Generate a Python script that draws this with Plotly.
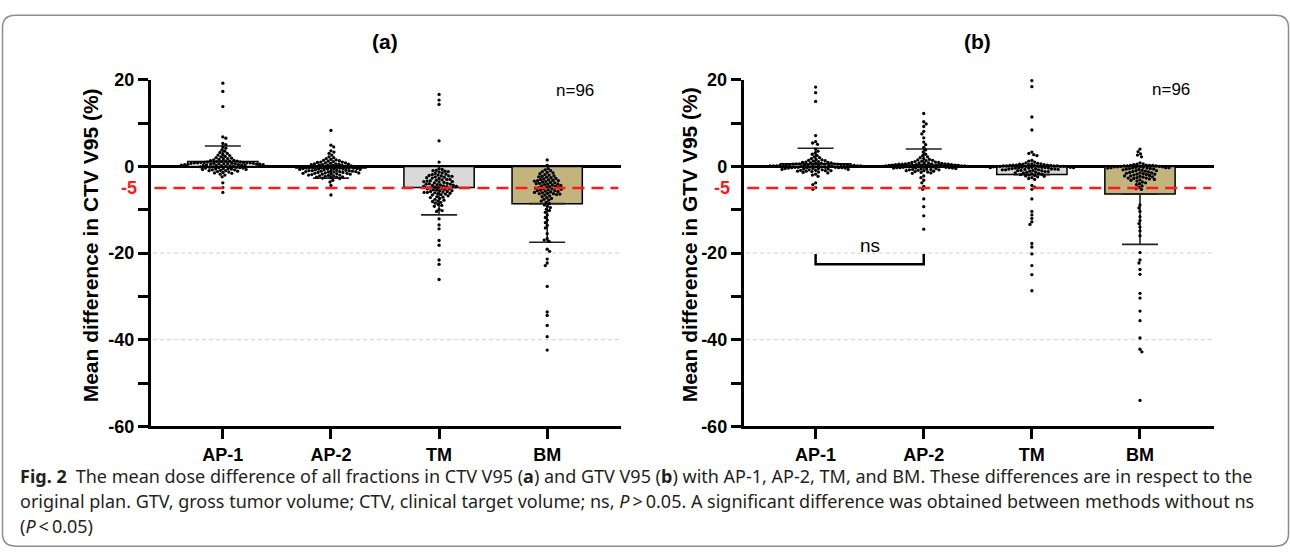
import math
import plotly.graph_objects as go

W, H = 1290, 560

categories = ["AP-1", "AP-2", "TM", "BM"]
bar_colors = ["#ffffff", "#ffffff", "#d9d9d9", "#c2b47c"]
y_ticks = [20, 0, -20, -40, -60]
y_ticktext = ["20", "0", "-20", "-40", "-60"]
y_minor = [10, -10, -30, -50]

# Panel (a): CTV V95 mean difference (%) and SD
ctv_mean = [1.1, -0.4, -4.9, -8.6]
ctv_sd = [3.6, 2.3, 6.3, 8.9]
# Panel (b): GTV V95
gtv_mean = [0.6, 0.3, -1.9, -6.4]
gtv_sd = [3.6, 3.7, 0.0, 11.6]

# individual fractions (n=96 per method), estimated from the scatter
ctv_ap1 = [19.2, 17.3, 13.8, 6.8, 6.5, 5.3, 5.0, 4.5, 4.2, 3.8, 3.5, 3.2,
           3.0, 2.8, 2.6, 2.5, 2.3, 2.2, 2.0, 1.9, 1.8, 1.7, 1.6, 1.5,
           1.4, 1.3, 1.2, 1.2, 1.1, 1.0, 1.0, 0.9, 0.9, 0.8, 0.8, 0.8,
           0.7, 0.7, 0.7, 0.6, 0.6, 0.6, 0.5, 0.5, 0.5, 0.5, 0.4, 0.4,
           0.4, 0.3, 0.3, 0.3, 0.2, 0.2, 0.2, 0.1, 0.1, 0.0, 0.0, -0.1,
           -0.1, -0.2, -0.2, -0.3, -0.3, -0.4, -0.4, -0.5, -0.5, -0.6, -0.6, -0.7,
           -0.7, -0.8, -0.8, -0.9, -1.0, -1.0, -1.1, -1.2, -1.3, -1.4, -1.5, -1.6,
           -1.8, -2.0, -2.4, -3.8, -4.9, -6.0, 0.9, 1.1, 0.6, 0.8, 0.7, 1.2]
ctv_ap2 = [8.3, 4.9, 4.5, 3.6, 3.3, 3.0, 2.6, 2.2, 2.0, 1.8, 1.6, 1.5,
           1.4, 1.3, 1.2, 1.1, 1.0, 1.0, 0.9, 0.8, 0.8, 0.7, 0.6, 0.5,
           0.5, 0.4, 0.3, 0.3, 0.2, 0.1, 0.0, 0.0, -0.1, -0.1, -0.2, -0.2,
           -0.3, -0.3, -0.4, -0.4, -0.5, -0.5, -0.6, -0.6, -0.7, -0.7, -0.8, -0.8,
           -0.9, -0.9, -1.0, -1.0, -1.1, -1.1, -1.2, -1.2, -1.3, -1.3, -1.4, -1.4,
           -1.5, -1.5, -1.6, -1.6, -1.7, -1.7, -1.8, -1.8, -1.9, -2.0, -2.0, -2.1,
           -2.2, -2.2, -2.3, -2.4, -2.5, -2.5, -2.6, -2.7, -2.8, -0.4, -0.6, -1.0,
           -3.2, -3.6, -4.4, -6.6, 0.2, 0.6, -0.2, -1.2, -1.6, 0.4, -0.5, -0.9]
ctv_tm = [16.6, 15.3, 14.3, 5.9, 1.0, -0.5, -0.7, -0.9, -1.0, -1.1, -1.3, -1.5,
          -1.6, -1.8, -2.0, -2.1, -2.2, -2.3, -2.5, -2.6, -2.8, -3.0, -3.1, -3.2,
          -3.3, -3.4, -3.5, -3.6, -3.7, -3.8, -3.9, -4.0, -4.1, -4.2, -4.3, -4.4,
          -4.5, -4.6, -4.7, -4.8, -4.9, -5.0, -5.1, -5.2, -5.3, -5.4, -5.5, -5.6,
          -5.7, -5.8, -5.9, -6.0, -6.1, -6.2, -6.3, -6.4, -6.5, -6.6, -6.8, -7.0,
          -7.1, -7.2, -7.4, -7.6, -7.8, -8.0, -8.1, -8.3, -8.5, -8.8, -9.0, -9.2,
          -9.9, -10.2, -10.4, -12.1, -13.5, -14.4, -17.1, -18.2, -21.6, -22.6, -26.1, -2.4,
          -1.2, -1.9, -2.7, -3.5, -4.1, -4.6, -5.2, -5.8, -3.0, -4.4, -6.0, -2.2]
ctv_bm = [-42.4, -39.3, -36.7, -34.4, -33.6, -27.7, -22.9, -22.3, -21.4, -19.6, -19.1, -17.3,
          -17.0, -16.7, -15.5, -14.2, -13.6, -13.0, -12.4, -11.8, -11.2, -10.6, -10.2, -9.9,
          1.5, 0.2, -0.5, -0.8, -1.0, -1.2, -1.4, -1.5, -1.7, -1.9, -2.0, -2.2,
          -2.3, -2.5, -2.6, -2.8, -2.9, -3.0, -3.1, -3.2, -3.3, -3.4, -3.5, -3.6,
          -3.7, -3.8, -3.9, -4.0, -4.1, -4.2, -4.3, -4.4, -4.5, -4.6, -4.7, -4.8,
          -4.9, -5.0, -5.1, -5.2, -5.3, -5.4, -5.5, -5.6, -5.7, -5.8, -5.9, -6.0,
          -6.1, -6.2, -6.3, -6.4, -6.5, -6.6, -6.8, -7.0, -7.2, -7.4, -7.6, -7.8,
          -8.0, -8.3, -8.6, -8.9, -9.2, -9.5, -2.4, -3.3, -4.1, -4.9, -5.6, -6.3]

gtv_ap1 = [18.3, 17.0, 15.0, 7.1, 5.7, 5.4, 5.1, 4.0, 3.5, 3.1, -5.3, -4.9,
           -4.2, -3.8, -2.3, -2.0, -1.8, -1.5, 2.8, 2.5, 2.2, 2.0, 1.8, 1.6,
           1.5, 1.4, 1.3, 1.2, 1.1, 1.0, 0.9, 0.9, 0.8, 0.8, 0.7, 0.7,
           0.6, 0.6, 0.5, 0.5, 0.5, 0.4, 0.4, 0.4, 0.3, 0.3, 0.3, 0.3,
           0.2, 0.2, 0.2, 0.2, 0.1, 0.1, 0.1, 0.1, 0.0, 0.0, 0.0, 0.0,
           -0.1, -0.1, -0.1, -0.2, -0.2, -0.2, -0.3, -0.3, -0.3, -0.4, -0.4, -0.5,
           -0.5, -0.6, -0.6, -0.7, -0.7, -0.8, -0.8, -0.9, -0.9, -1.0, -1.0, -1.1,
           -1.1, -1.2, -1.3, -1.4, -0.2, 0.3, 0.6, -0.5, 0.2, 0.4, -0.3, 0.1]
gtv_ap2 = [12.2, 10.3, 9.8, 9.2, 8.1, 7.5, 6.6, 5.6, 5.0, 4.4, 3.8, 3.3,
           -14.5, -11.4, -9.3, -7.5, -5.3, -4.6, -3.8, -3.2, -2.6, -2.2, 2.8, 2.5,
           2.2, 2.0, 1.8, 1.6, 1.4, 1.3, 1.2, 1.1, 1.0, 0.9, 0.9, 0.8,
           0.8, 0.7, 0.7, 0.6, 0.6, 0.5, 0.5, 0.4, 0.4, 0.3, 0.3, 0.3,
           0.2, 0.2, 0.2, 0.1, 0.1, 0.1, 0.0, 0.0, 0.0, 0.0, -0.1, -0.1,
           -0.1, -0.2, -0.2, -0.3, -0.3, -0.4, -0.4, -0.5, -0.5, -0.6, -0.6, -0.7,
           -0.7, -0.8, -0.9, -1.0, -1.1, -1.2, -1.3, -1.4, -1.5, -1.6, 0.2, 0.4,
           -0.2, 0.1, 0.3, -0.3, 0.5, 0.0, -0.4, 0.6, -0.8, -1.0, 1.5, 0.7]
gtv_tm = [19.8, 18.4, 11.4, 8.4, 3.3, 3.0, 2.7, 2.5, -28.7, -25.0, -22.9, -20.2,
          -18.6, -17.8, -13.4, -12.8, -12.0, -11.2, -10.4, -7.5, -5.3, -4.8, -4.4, 1.4,
          1.2, 1.0, 0.8, 0.7, 0.6, 0.5, 0.5, 0.4, 0.4, 0.3, 0.3, 0.2,
          0.2, 0.2, 0.1, 0.1, 0.1, 0.0, 0.0, 0.0, 0.0, -0.1, -0.1, -0.1,
          -0.2, -0.2, -0.2, -0.3, -0.3, -0.3, -0.4, -0.4, -0.5, -0.5, -0.6, -0.6,
          -0.7, -0.7, -0.8, -0.8, -0.9, -0.9, -1.0, -1.0, -1.1, -1.2, -1.3, -1.4,
          -1.5, -1.6, -1.7, -1.8, -1.9, -2.0, -2.1, -2.2, -2.4, -2.6, -2.8, -3.0,
          -0.2, 0.1, -0.4, 0.3, -0.6, -1.2, 0.0, -0.8, -1.5, 0.6, -0.3, -2.3]
gtv_bm = [-54.0, -42.8, -42.2, -39.6, -35.6, -33.4, -30.4, -29.3, -24.9, -23.8, -22.3, -21.6,
          -19.9, -16.0, -14.9, -14.0, -13.2, -12.5, -11.6, -10.4, -9.6, -8.9, 4.0, 3.4,
          2.9, 2.6, 2.2, 0.8, 0.6, 0.5, 0.4, 0.3, 0.2, 0.2, 0.1, 0.1,
          0.0, 0.0, 0.0, -0.1, -0.1, -0.2, -0.2, -0.3, -0.3, -0.4, -0.4, -0.5,
          -0.5, -0.6, -0.7, -0.8, -0.9, -1.0, -1.1, -1.2, -1.3, -1.4, -1.5, -1.6,
          -1.7, -1.8, -1.9, -2.0, -2.1, -2.2, -2.3, -2.4, -2.5, -2.6, -2.7, -2.8,
          -2.9, -3.0, -3.2, -3.4, -3.6, -3.8, -4.0, -4.2, -4.5, -4.8, -5.1, -5.3,
          -0.1, -0.3, 0.2, -0.6, -1.0, -1.5, -2.2, -2.7, 0.1, -0.4, -1.8, -3.1]

ctv_groups = [ctv_ap1, ctv_ap2, ctv_tm, ctv_bm]
gtv_groups = [gtv_ap1, gtv_ap2, gtv_tm, gtv_bm]

# ---- layout geometry (pixels) ----
X_RANGE = [-0.667, 3.68]
Y_RANGE = [-60, 20]
ax_a = (150.7, 620.7)
ax_b = (743.5, 1213.5)
y_top, y_bot = 72.3, 431.8
PX_PER_CAT = (ax_a[1] - ax_a[0]) / (X_RANGE[1] - X_RANGE[0])
PX_PER_UNIT = (y_bot - y_top) / (Y_RANGE[1] - Y_RANGE[0])


def px(x):
    return x / W


def py(y):
    return 1 - y / H


def swarm_offsets(vals, d=3.3):
    """Beeswarm: horizontal offsets (in category units) so that dots don't overlap."""
    order = sorted(range(len(vals)), key=lambda i: -vals[i])
    placed = []
    out = [0.0] * len(vals)
    for n, i in enumerate(order):
        yv = vals[i] * PX_PER_UNIT
        intervals = []
        for (qx, qy) in placed:
            dy = abs(qy - yv)
            if dy < d:
                h = math.sqrt(d * d - dy * dy)
                intervals.append((qx - h, qx + h))
        cands = [0.0] + [a for a, b in intervals] + [b for a, b in intervals]
        sign = 1 if n % 2 == 0 else -1
        cands.sort(key=lambda c: (round(abs(c), 6), -sign * c))
        xv = 0.0
        for c in cands:
            if all(not (a + 1e-9 < c < b - 1e-9) for a, b in intervals):
                xv = c
                break
        placed.append((xv, yv))
        out[i] = xv / PX_PER_CAT
    return out


fig = go.Figure()

panels = [
    (ctv_mean, ctv_sd, ctv_groups, "x", "y"),
    (gtv_mean, gtv_sd, gtv_groups, "x2", "y2"),
]
xs = list(range(len(categories)))
for means, sds, groups, xa, ya in panels:
    fig.add_trace(go.Bar(
        x=xs, y=means, width=0.65,
        marker=dict(color=bar_colors, line=dict(color="black", width=1.5)),
        error_y=dict(type="data", symmetric=False,
                     array=[s if m >= 0 else 0 for m, s in zip(means, sds)],
                     arrayminus=[s if m < 0 else 0 for m, s in zip(means, sds)],
                     width=18, thickness=1.6, color="#222222"),
        xaxis=xa, yaxis=ya, showlegend=False, hoverinfo="skip"))
    for k, vals in enumerate(groups):
        offs = swarm_offsets(vals)
        fig.add_trace(go.Scatter(
            x=[k + o for o in offs], y=vals, mode="markers",
            marker=dict(size=3.3, color="black", line=dict(width=0)),
            xaxis=xa, yaxis=ya, showlegend=False, cliponaxis=False,
            hovertemplate=categories[k] + ": %{y}<extra></extra>"))

tickfont = dict(family="Liberation Sans, Arial, sans-serif", size=18, color="black", weight="bold")


def xaxis(dom, anchor):
    return dict(domain=dom, anchor=anchor, range=X_RANGE, tickmode="array",
                tickvals=xs, ticktext=categories, showline=True, linecolor="black",
                linewidth=2.5, ticks="outside", ticklen=10, tickwidth=2.5, tickcolor="black",
                tickfont=tickfont, showgrid=False, zeroline=False, fixedrange=True)


def yaxis(dom, anchor):
    return dict(domain=dom, anchor=anchor, range=Y_RANGE, tickmode="array",
                tickvals=y_ticks, ticktext=y_ticktext, showline=True, linecolor="black",
                linewidth=2.5, ticks="outside", ticklen=10, tickwidth=2.5, tickcolor="black",
                tickfont=tickfont, showgrid=False, zeroline=True, zerolinecolor="black",
                zerolinewidth=3,
                minor=dict(tickvals=y_minor, ticks="outside", ticklen=10, tickwidth=2.5,
                           tickcolor="black", showgrid=False),
                fixedrange=True)


ydom = [py(y_bot), py(y_top)]
fig.update_layout(
    width=W, height=H, margin=dict(l=0, r=0, t=0, b=0),
    paper_bgcolor="white", plot_bgcolor="rgba(0,0,0,0)",
    barmode="overlay", showlegend=False,
    xaxis=xaxis([px(ax_a[0]), px(ax_a[1])], "y"),
    yaxis=yaxis(ydom, "x"),
    xaxis2=xaxis([px(ax_b[0]), px(ax_b[1])], "y2"),
    yaxis2=yaxis(ydom, "x2"),
    font=dict(family="Liberation Sans, Arial, sans-serif", color="black"),
)

shapes = []
for xr, yr in (("x", "y"), ("x2", "y2")):
    for g in (-20, -40):
        shapes.append(dict(type="line", xref=xr + " domain", yref=yr, x0=0.005, x1=1,
                           y0=g, y1=g, layer="below",
                           line=dict(color="#cfcfcf", width=1, dash="4px,3px")))
    shapes.append(dict(type="line", xref=xr + " domain", yref=yr, x0=0.008, x1=0.995,
                       y0=-5, y1=-5, layer="above",
                       line=dict(color="#ff1a1a", width=2.6, dash="12px,7px")))
# ns bracket between AP-1 and AP-2 in panel (b)
shapes.append(dict(type="path", xref="x2", yref="y2",
                   path="M 0,-20.2 L 0,-22.6 L 1,-22.6 L 1,-20.2",
                   line=dict(color="black", width=2.5)))
# rounded frame
fx0, fx1, fy0, fy1, r = 2.5, 1288.5, 5.5, 556.0, 13
frame = (f"M {px(fx0 + r)},{py(fy0)} L {px(fx1 - r)},{py(fy0)} "
         f"Q {px(fx1)},{py(fy0)} {px(fx1)},{py(fy0 + r)} "
         f"L {px(fx1)},{py(fy1 - r)} Q {px(fx1)},{py(fy1)} {px(fx1 - r)},{py(fy1)} "
         f"L {px(fx0 + r)},{py(fy1)} Q {px(fx0)},{py(fy1)} {px(fx0)},{py(fy1 - r)} "
         f"L {px(fx0)},{py(fy0 + r)} Q {px(fx0)},{py(fy0)} {px(fx0 + r)},{py(fy0)} Z")
shapes.append(dict(type="path", xref="paper", yref="paper", path=frame,
                   line=dict(color="#8c8c8c", width=1.5)))
fig.update_layout(shapes=shapes)

ann = []
arial = "Liberation Sans, Arial, sans-serif"
for txt, x in (("(a)", 385), ("(b)", 977)):
    ann.append(dict(text=txt, x=px(x), y=py(33), xref="paper", yref="paper",
                    showarrow=False, xanchor="center", yanchor="middle",
                    font=dict(family=arial, size=21, color="black", weight="bold")))
for x, y in ((574.7, 83), (1170.8, 82)):
    ann.append(dict(text="n=96", x=px(x), y=py(y), xref="paper", yref="paper",
                    showarrow=False, xanchor="center", yanchor="middle",
                    font=dict(family=arial, size=17, color="black")))
for txt, x in (("Mean difference in CTV V95 (%)", 90), ("Mean difference in GTV V95 (%)", 689)):
    ann.append(dict(text=txt, x=px(x), y=py((y_top + y_bot) / 2 - 8), xref="paper",
                    yref="paper", showarrow=False, textangle=-90, xanchor="center",
                    yanchor="middle",
                    font=dict(family=arial, size=21, color="black", weight="bold")))
for axx, yr in ((ax_a[0], "y"), (ax_b[0], "y2")):
    ann.append(dict(text="-5", x=px(axx - 12), y=-5, xref="paper", yref=yr,
                    showarrow=False, xanchor="right", yanchor="middle",
                    font=dict(family=arial, size=18, color="#ff1a1a", weight="bold")))
ann.append(dict(text="ns", x=0.5, y=-18.3, xref="x2", yref="y2", showarrow=False,
                xanchor="center", yanchor="middle",
                font=dict(family=arial, size=19, color="black")))

cap_font = dict(family="Noto Sans, Open Sans, sans-serif", size=18, color="#231f20")
caption = [
    "<b>Fig. 2</b>\u2002The mean dose difference of all fractions in CTV V95 (<b>a</b>) and GTV V95 (<b>b</b>) "
    "with AP-1, AP-2, TM, and BM. These differences are in respect to the",
    "original plan. GTV, gross tumor volume; CTV, clinical target volume; ns, <i>P</i>\u2009>\u20090.05. "
    "A significant difference was obtained between methods without ns",
    "(<i>P</i>\u2009<\u20090.05)",
]
for line, y in zip(caption, (483, 509, 535)):
    ann.append(dict(text=line, x=px(18), y=py(y), xref="paper", yref="paper",
                    showarrow=False, xanchor="left", yanchor="middle", font=cap_font))
fig.update_layout(annotations=ann)

fig.write_html("out.html", include_plotlyjs=True, config={"displayModeBar": False},
               post_script="document.body.style.margin='0px';document.body.style.overflow='hidden';")
